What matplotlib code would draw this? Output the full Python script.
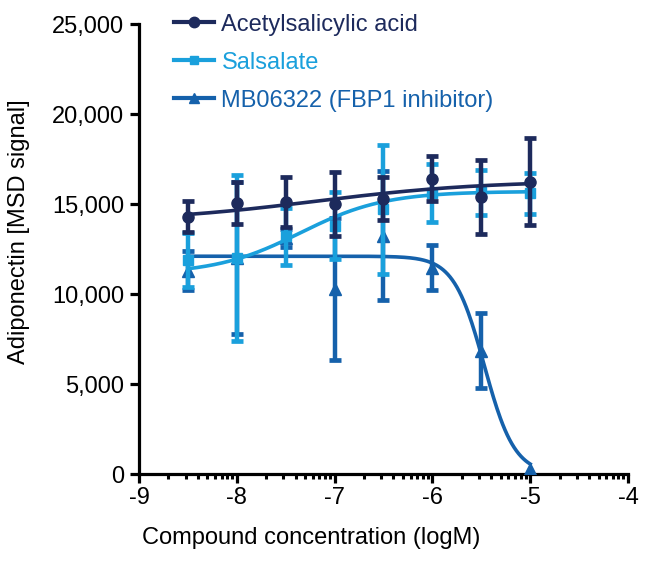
import numpy as np
import matplotlib
matplotlib.use("Agg")
import matplotlib.pyplot as plt
from matplotlib.lines import Line2D
from matplotlib.ticker import FixedLocator, FuncFormatter

plt.rcParams["font.family"] = ["Liberation Sans", "DejaVu Sans"]

# ---------- data ----------
log_conc = [-8.5, -8.0, -7.5, -7.0, -6.5, -6.0, -5.5, -5.0]

asa_mean = [14300, 15050, 15100, 15000, 15300, 16400, 15400, 16250]
asa_sd = [850, 1150, 1400, 1800, 1200, 1250, 2050, 2400]

sal_mean = [11900, 12000, 13200, 13800, 14700, 15600, 15650, 15600]
sal_sd = [1500, 4600, 1600, 1850, 3600, 1600, 1250, 1150]

mb_mean = [11300, 12000, 13100, 10300, 13250, 11450, 6850, 300]
mb_sd = [1100, 4200, 500, 3950, 3600, 1250, 2080, np.nan]

# 4PL fit: (low-conc plateau, high-conc plateau, logEC50, hill)
asa_fit = (14000, 16300, -7.2, 0.5)
sal_fit = (11100, 15700, -7.35, 1.0)
mb_fit = (12100, 0, -5.47, 2.8)

labels = ["Acetylsalicylic acid", "Salsalate", "MB06322 (FBP1 inhibitor)"]
colors = ["#1d2a5c", "#1aa0dc", "#1561ab"]
markers = ["o", "s", "^"]
msizes = [8, 6.5, 8]

y_ticks = [0, 5000, 10000, 15000, 20000, 25000]
x_ticks = [-9, -8, -7, -6, -5, -4]

FS = 17


def four_pl(x, p):
    low, high, ec50, hill = p
    return high + (low - high) / (1 + 10 ** ((x - ec50) * hill))


fig = plt.figure(figsize=(6.5, 5.65), dpi=100)
ax = fig.add_axes([0.2138, 0.161, 0.7523, 0.7965])

xs = np.linspace(log_conc[0], log_conc[-1], 300)
series = [
    (asa_mean, asa_sd, asa_fit),
    (sal_mean, sal_sd, sal_fit),
    (mb_mean, mb_sd, mb_fit),
]

# MB 先画，乙酰水杨酸在最上层
for i in [2, 1, 0]:
    mean, sd, fit = series[i]
    ax.errorbar(log_conc, mean, yerr=sd, fmt=markers[i], color=colors[i],
                ms=msizes[i], capsize=4.5, capthick=3.4, elinewidth=3.2,
                zorder=3 + (2 - i))
    ax.plot(xs, four_pl(xs, fit), color=colors[i], lw=2.6, zorder=3 + (2 - i))

# ---------- axes ----------
ax.set_xlim(-9, -4)
ax.set_ylim(0, 25000)
ax.set_yticks(y_ticks)
ax.set_xticks(x_ticks)
minor = [d + np.log10(k) for d in range(-9, -4) for k in range(2, 10)]
ax.xaxis.set_minor_locator(FixedLocator(minor))
ax.yaxis.set_major_formatter(FuncFormatter(lambda v, _: f"{v:,.0f}"))
ax.xaxis.set_major_formatter(FuncFormatter(lambda v, _: f"{v:.0f}"))

for s in ["top", "right"]:
    ax.spines[s].set_visible(False)
for s in ["left", "bottom"]:
    ax.spines[s].set_linewidth(2.3)

ax.tick_params(axis="y", which="major", length=6.5, width=2.3,
               labelsize=FS, pad=4)
ax.tick_params(axis="x", which="major", length=6.5, width=2.3,
               labelsize=FS, pad=3)
ax.tick_params(axis="x", which="minor", length=3.5, width=2.2)

ax.set_xlabel("Compound concentration (logM)", fontsize=FS)
ax.xaxis.set_label_coords(0.352, -0.118)
ax.set_ylabel("Adiponectin [MSD signal]", fontsize=FS)
ax.yaxis.set_label_coords(-0.222, 0.538)

# ---------- legend ----------
handles = [Line2D([], [], color=colors[i], marker=markers[i], ms=msizes[i] - 0.5,
                  lw=3) for i in range(3)]
leg = fig.legend(handles, labels, loc="upper left", bbox_to_anchor=(0.268, 0.976),
                 frameon=False, fontsize=FS, handlelength=1.7, handletextpad=0.3,
                 labelspacing=0.68, borderpad=0, borderaxespad=0)
for txt, c in zip(leg.get_texts(), colors):
    txt.set_color(c)

fig.savefig("out.png", dpi=100)
